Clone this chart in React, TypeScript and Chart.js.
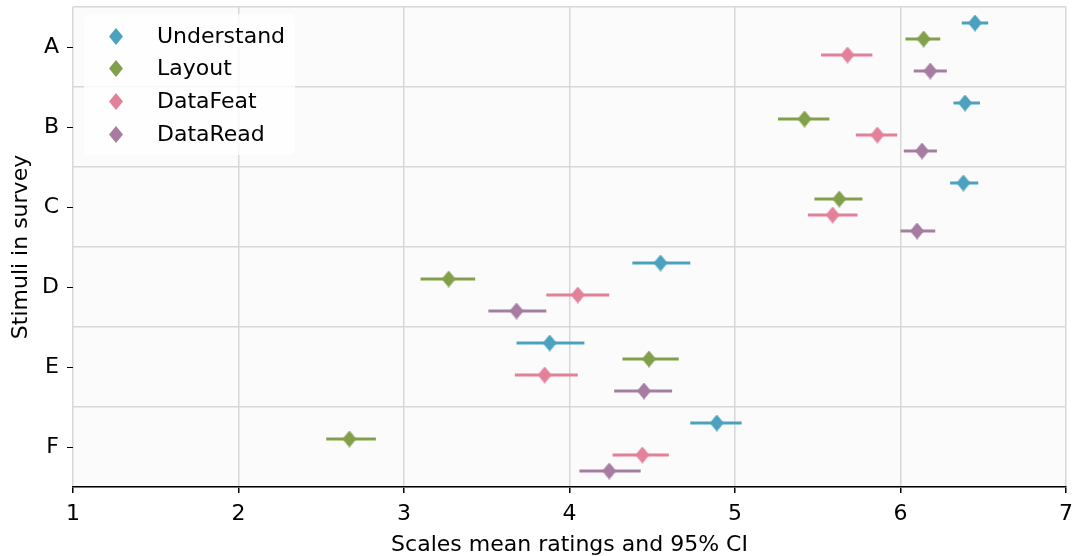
import React, { useEffect, useRef } from 'react';
import { Chart, registerables } from 'chart.js';

Chart.register(...registerables);

const categories = ['A', 'B', 'C', 'D', 'E', 'F'];
const seriesNames = ['Understand', 'Layout', 'DataFeat', 'DataRead'];
const seriesColors = ['#4aa2bf', '#82a04a', '#e3809a', '#a77ca1'];
const seriesOffsets = [-0.3, -0.1, 0.1, 0.3];
const xTicks = [1, 2, 3, 4, 5, 6, 7];

const understandMean = [6.45, 6.39, 6.38, 4.55, 3.88, 4.89];
const understandLow = [6.37, 6.32, 6.30, 4.38, 3.68, 4.73];
const understandHigh = [6.53, 6.48, 6.47, 4.73, 4.09, 5.04];

const layoutMean = [6.14, 5.42, 5.63, 3.27, 4.48, 2.67];
const layoutLow = [6.03, 5.26, 5.48, 3.10, 4.32, 2.53];
const layoutHigh = [6.24, 5.57, 5.77, 3.43, 4.66, 2.83];

const dataFeatMean = [5.68, 5.86, 5.59, 4.05, 3.85, 4.44];
const dataFeatLow = [5.52, 5.73, 5.44, 3.86, 3.67, 4.26];
const dataFeatHigh = [5.83, 5.98, 5.74, 4.24, 4.05, 4.60];

const dataReadMean = [6.18, 6.13, 6.10, 3.68, 4.45, 4.24];
const dataReadLow = [6.08, 6.02, 6.00, 3.51, 4.27, 4.06];
const dataReadHigh = [6.28, 6.22, 6.21, 3.86, 4.62, 4.43];

const means = [understandMean, layoutMean, dataFeatMean, dataReadMean];
const lows = [understandLow, layoutLow, dataFeatLow, dataReadLow];
const highs = [understandHigh, layoutHigh, dataFeatHigh, dataReadHigh];

const FONT = '"DejaVu Sans", Verdana, sans-serif';
const FS = 22;

function makeDiamond(color: string, w = 14, h = 17): HTMLCanvasElement {
  const c = document.createElement('canvas');
  c.width = w;
  c.height = h;
  const ctx = c.getContext('2d')!;
  ctx.fillStyle = color;
  ctx.beginPath();
  ctx.moveTo(w / 2, 0);
  ctx.lineTo(w, h / 2);
  ctx.lineTo(w / 2, h);
  ctx.lineTo(0, h / 2);
  ctx.closePath();
  ctx.fill();
  return c;
}

export default function App() {
  const canvasRef = useRef<HTMLCanvasElement | null>(null);

  useEffect(() => {
    if (!canvasRef.current) return;
    const diamonds = seriesColors.map((c) => makeDiamond(c));

    const ciDatasets = seriesNames.map((name, s) => {
      const pts: any[] = [];
      categories.forEach((_, i) => {
        const y = i + 1 + seriesOffsets[s];
        pts.push({ x: lows[s][i], y });
        pts.push({ x: highs[s][i], y });
        pts.push({ x: null, y: null });
      });
      return {
        label: name + ' CI',
        data: pts,
        showLine: true,
        spanGaps: false,
        borderColor: seriesColors[s],
        borderWidth: 3,
        pointRadius: 0,
        pointHoverRadius: 0,
        yAxisID: 'y',
        xAxisID: 'x',
        order: 2,
      };
    });

    const pointDatasets = seriesNames.map((name, s) => ({
      label: name,
      data: categories.map((_, i) => ({ x: means[s][i], y: i + 1 + seriesOffsets[s] })),
      showLine: false,
      pointStyle: diamonds[s] as any,
      backgroundColor: seriesColors[s],
      borderColor: seriesColors[s],
      yAxisID: 'y',
      xAxisID: 'x',
      order: 1,
    }));

    const bgPlugin = {
      id: 'plotBg',
      beforeDraw(chart: any) {
        const { ctx, chartArea } = chart;
        ctx.save();
        ctx.fillStyle = '#fbfbfb';
        ctx.fillRect(chartArea.left, chartArea.top, chartArea.right - chartArea.left, chartArea.bottom - chartArea.top);
        ctx.restore();
      },
    };

    const legendPlugin = {
      id: 'innerLegend',
      afterDraw(chart: any) {
        const { ctx, chartArea } = chart;
        const bx = chartArea.left + 11;
        const by = chartArea.top + 7;
        const bw = 211;
        const bh = 141;
        const r = 6;
        ctx.save();
        ctx.fillStyle = 'rgba(255,255,255,0.8)';
        ctx.beginPath();
        ctx.moveTo(bx + r, by);
        ctx.lineTo(bx + bw - r, by);
        ctx.quadraticCurveTo(bx + bw, by, bx + bw, by + r);
        ctx.lineTo(bx + bw, by + bh - r);
        ctx.quadraticCurveTo(bx + bw, by + bh, bx + bw - r, by + bh);
        ctx.lineTo(bx + r, by + bh);
        ctx.quadraticCurveTo(bx, by + bh, bx, by + bh - r);
        ctx.lineTo(bx, by + r);
        ctx.quadraticCurveTo(bx, by, bx + r, by);
        ctx.closePath();
        ctx.fill();
        ctx.font = FS + 'px ' + FONT;
        ctx.textBaseline = 'middle';
        ctx.fillStyle = '#000';
        seriesNames.forEach((n, i) => {
          const cy = by + 22 + i * 32.7;
          const d = diamonds[i];
          ctx.drawImage(d, Math.round(bx + 32 - d.width / 2), Math.round(cy - d.height / 2));
          ctx.fillText(n, bx + 73, cy + 1);
        });
        ctx.restore();
      },
    };

    const chart = new Chart(canvasRef.current, {
      type: 'scatter',
      data: { datasets: [...pointDatasets, ...ciDatasets] as any },
      plugins: [bgPlugin, legendPlugin],
      options: {
        animation: false,
        responsive: true,
        maintainAspectRatio: false,
        layout: { padding: { top: 7, right: 7, left: 0, bottom: 0 } },
        plugins: {
          legend: { display: false },
          tooltip: { enabled: false },
        },
        scales: {
          x: {
            type: 'linear',
            min: 1,
            max: 7,
            afterBuildTicks: (s: any) => {
              s.ticks = xTicks.map((v) => ({ value: v }));
            },
            ticks: { color: '#000', font: { size: FS, family: FONT }, padding: 8 },
            grid: {
              color: '#d8d8d8',
              lineWidth: 1.5,
              drawTicks: true,
              tickLength: 6,
              tickColor: '#000',
              tickWidth: 1.5,
            },
            border: { display: true, color: '#000', width: 1.5 },
            title: {
              display: true,
              text: 'Scales mean ratings and 95% CI',
              color: '#000',
              font: { size: FS, family: FONT },
              padding: { top: 0, bottom: -2 },
            },
            afterFit: (s: any) => {
              s.height = 69;
              s.paddingLeft = 0;
              s.paddingRight = 0;
            },
          },
          y: {
            type: 'linear',
            position: 'left',
            reverse: true,
            min: 0.5,
            max: 6.5,
            afterBuildTicks: (s: any) => {
              s.ticks = categories.map((_, i) => ({ value: i + 1 }));
            },
            ticks: {
              color: '#000',
              font: { size: FS, family: FONT },
              padding: 8,
              callback: (v: any) => categories[Math.round(Number(v)) - 1] ?? '',
            },
            grid: {
              display: true,
              drawOnChartArea: false,
              drawTicks: true,
              tickLength: 6,
              tickColor: '#000',
              tickWidth: 1,
            },
            border: { display: false },
            title: {
              display: true,
              text: 'Stimuli in survey',
              color: '#000',
              font: { size: FS, family: FONT },
              padding: { top: 8, bottom: 0 },
            },
            afterFit: (s: any) => {
              s.width = 73;
              s.paddingTop = 0;
              s.paddingBottom = 0;
            },
          },
          yGrid: {
            type: 'linear',
            position: 'right',
            reverse: true,
            min: 0.5,
            max: 6.5,
            afterBuildTicks: (s: any) => {
              s.ticks = [0, 1, 2, 3, 4, 5, 6].map((i) => ({ value: i + 0.5 }));
            },
            ticks: { display: false },
            grid: { color: '#d8d8d8', lineWidth: 1.5, drawTicks: false },
            border: { display: false },
            afterFit: (s: any) => {
              s.width = 0;
              s.paddingTop = 0;
              s.paddingBottom = 0;
            },
          },
        } as any,
      },
    });

    return () => {
      chart.destroy();
    };
  }, []);

  return (
    <div style={{ position: 'fixed', left: 0, top: 0, width: 1073, height: 556, background: '#fff' }}>
      <canvas ref={canvasRef} />
    </div>
  );
}
